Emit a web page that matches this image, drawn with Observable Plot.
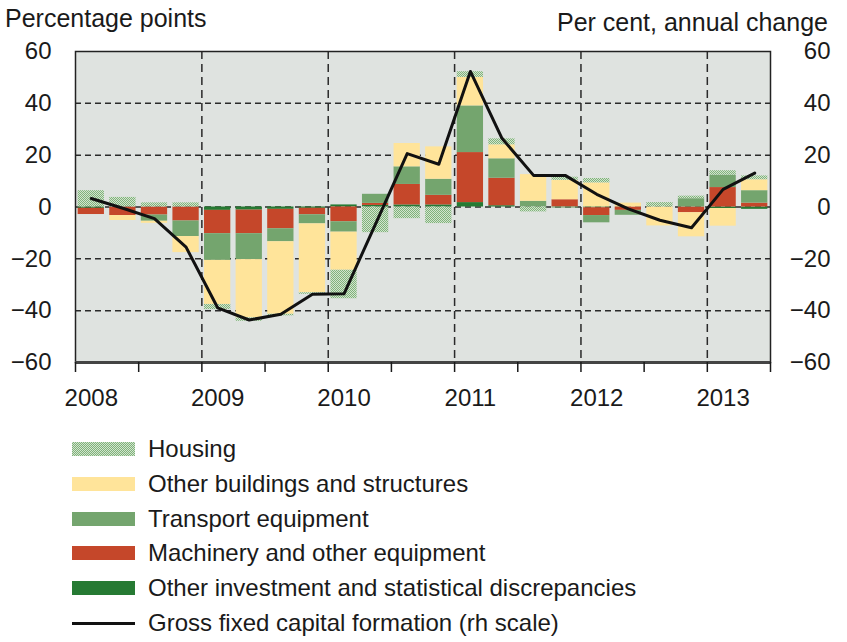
<!DOCTYPE html>
<html><head><meta charset="utf-8">
<script src="https://cdn.jsdelivr.net/npm/d3@7"></script>
<script src="https://cdn.jsdelivr.net/npm/@observablehq/plot@0.6"></script>
<style>
body{margin:0;background:#fff;font-family:"Liberation Sans",Arial,sans-serif;}
#wrap{position:relative;width:847px;height:642px;overflow:hidden;}
.t{position:absolute;font-size:25px;line-height:25px;color:#1a1a1a;white-space:nowrap;}
.row{position:absolute;left:72px;height:24px;display:flex;align-items:center;font-size:24px;color:#1a1a1a;white-space:nowrap;}
.sw{width:63px;height:14px;margin-right:13px;flex:none;}
.ln{width:63px;height:3px;background:#111;margin-right:13px;flex:none;}
</style></head><body><div id="wrap"></div>
<script>
// ---- data (quarterly, 2008Q1 .. 2013Q2) ----
const quarters = ["2008Q1","2008Q2","2008Q3","2008Q4","2009Q1","2009Q2","2009Q3","2009Q4",
  "2010Q1","2010Q2","2010Q3","2010Q4","2011Q1","2011Q2","2011Q3","2011Q4",
  "2012Q1","2012Q2","2012Q3","2012Q4","2013Q1","2013Q2"];
const years = ["2008","2009","2010","2011","2012","2013"];
const seriesNames = ["Other investment and statistical discrepancies","Machinery and other equipment",
  "Transport equipment","Other buildings and structures","Housing"];
const otherInvestment = [-0.5,0,0,0,-1.3,-1.2,-0.9,-0.5,0.8,0.6,0.8,0.8,1.7,0.5,0,0,-0.3,0,0,0,-0.6,-0.9];
const machinery       = [-2.4,-3.3,-3.1,-5.4,-9.0,-9.1,-7.5,-2.5,-5.7,0.8,7.9,3.7,19.3,10.6,0,2.8,-3.0,-1.3,0,-2.2,7.5,1.5];
const transport       = [0,0,-2.4,-6.0,-10.3,-10.0,-5.0,-3.5,-4.0,3.5,6.8,6.2,18.0,7.5,2.2,-0.4,-2.8,-1.9,0,3.2,4.8,4.8];
const otherBuildings  = [0,-1.9,-0.8,-6.2,-17.0,-22.5,-28.0,-26.6,-14.7,0,9.0,12.5,11.0,5.4,10.3,7.5,9.3,1.5,-7.3,-9.3,-6.8,4.2];
const housing         = [6.3,3.7,1.6,1.6,-2.0,-1.3,-0.6,-0.6,-11.0,-9.9,-4.5,-6.4,2.2,2.3,-1.9,1.2,1.7,0,1.7,1.0,1.7,1.5];
const gfcf            = [3.3,-0.5,-4.5,-15.5,-38.9,-43.6,-41.4,-33.7,-33.5,-6.5,20.6,16.5,52.3,26.5,12.2,12.2,4.9,-0.7,-5.1,-8.0,6.8,13.1];
const yTicks = [-60,-40,-20,0,20,40,60];

// ---- build tables ----
const seriesValues = [otherInvestment, machinery, transport, otherBuildings, housing];
const colors = ["#267a33","#c5472a","#74a56e","#ffe49a","url(#housingHatch)"];
const rows = [];
quarters.forEach((q, i) => {
  let pos = 0, neg = 0;
  seriesValues.forEach((arr, s) => {
    const v = arr[i];
    if (v >= 0) { rows.push({i, q, series: seriesNames[s], y1: pos, y2: pos + v}); pos += v; }
    else { rows.push({i, q, series: seriesNames[s], y1: neg, y2: neg + v}); neg += v; }
  });
});
const lineRows = quarters.map((q, i) => ({i, q, v: gfcf[i]}));
const quarterEdges = d3.range(0, quarters.length + 1, 2);
const yearEdges = years.slice(1).map((y, k) => 4 * (k + 1));
const yearPos = years.map((y, k) => 4 * k + 0.5);
const fmt = d => d < 0 ? "\u2212" + Math.abs(d) : String(d);

const chart = Plot.plot({
  width: 847, height: 420,
  marginLeft: 75, marginRight: 77, marginTop: 51, marginBottom: 58,
  style: {fontFamily: '"Liberation Sans", Arial, sans-serif', fontSize: "24px", color: "#1a1a1a", background: "transparent", overflow: "visible"},
  x: {domain: [0, quarters.length], axis: null},
  y: {domain: [-60, 60], axis: null},
  color: {domain: seriesNames, range: colors},
  marks: [
    Plot.frame({fill: "#dfe3e0"}),
    Plot.ruleY([-40, -20, 0, 20, 40], {stroke: "#2a2a2a", strokeWidth: 1.5, strokeDasharray: "6,4"}),
    Plot.ruleX(yearEdges, {stroke: "#2a2a2a", strokeWidth: 1.5, strokeDasharray: "8,5"}),
    Plot.rect(rows, {x1: d => d.i, x2: d => d.i + 1, y1: "y1", y2: "y2", fill: "series", insetLeft: 2.65, insetRight: 2.65}),
    Plot.line(lineRows, {x: d => d.i + 0.5, y: "v", stroke: "#111", strokeWidth: 3}),
    Plot.frame({stroke: "#222", strokeWidth: 1.5}),
    Plot.ruleY([-60], {stroke: "#444", strokeWidth: 3}),
    Plot.axisY(yTicks, {anchor: "left", tickSize: 0, tickPadding: 24, tickFormat: fmt}),
    Plot.axisY(yTicks, {anchor: "right", tickSize: 0, tickPadding: 60, textAnchor: "end", tickFormat: fmt}),
    Plot.axisX(quarterEdges, {anchor: "bottom", tickSize: 10, strokeWidth: 1.5, tickFormat: () => ""}),
    Plot.axisX(yearPos, {anchor: "bottom", tickSize: 0, tickPadding: 26, tickFormat: (d, k) => years[Math.round((d - 0.5) / 4)]})
  ]
});

// hatched pattern for housing
const ns = "http://www.w3.org/2000/svg";
const svg = chart.tagName.toLowerCase() === "svg" ? chart : chart.querySelector("svg");
const defs = document.createElementNS(ns, "defs");
const pat = document.createElementNS(ns, "pattern");
pat.setAttribute("id", "housingHatch");
pat.setAttribute("width", "2"); pat.setAttribute("height", "2");
pat.setAttribute("patternUnits", "userSpaceOnUse");
[[0,0,2,2,"#d2e4ce"],[0,0,1,1,"#80b27b"],[1,1,1,1,"#80b27b"]].forEach(([x,y,w,h,c]) => {
  const r = document.createElementNS(ns, "rect");
  r.setAttribute("x", x); r.setAttribute("y", y); r.setAttribute("width", w); r.setAttribute("height", h);
  r.setAttribute("fill", c); pat.appendChild(r);
});
defs.appendChild(pat);
svg.insertBefore(defs, svg.firstChild);

const wrap = document.getElementById("wrap");
wrap.appendChild(chart);

// titles
const t1 = document.createElement("div");
t1.className = "t"; t1.style.left = "5px"; t1.style.top = "6px"; t1.textContent = "Percentage points";
const t2 = document.createElement("div");
t2.className = "t"; t2.style.right = "19px"; t2.style.top = "10px"; t2.textContent = "Per cent, annual change";
wrap.appendChild(t1); wrap.appendChild(t2);

// legend
const legendItems = [
  {label: "Housing", fill: "hatch"},
  {label: "Other buildings and structures", fill: colors[3]},
  {label: "Transport equipment", fill: colors[2]},
  {label: "Machinery and other equipment", fill: colors[1]},
  {label: "Other investment and statistical discrepancies", fill: colors[0]},
  {label: "Gross fixed capital formation (rh scale)", fill: "line"}
];
const legendCenters = [449, 483.5, 518.5, 553, 588, 623];
legendItems.forEach((it, k) => {
  const row = document.createElement("div");
  row.className = "row";
  row.style.top = (legendCenters[k] - 12) + "px";
  const sw = document.createElement("div");
  if (it.fill === "line") sw.className = "ln";
  else {
    sw.className = "sw";
    sw.style.background = it.fill === "hatch"
      ? "repeating-conic-gradient(#80b27b 0 25%, #d2e4ce 0 50%) 0 0/2px 2px"
      : it.fill;
  }
  const tx = document.createElement("span");
  tx.textContent = it.label;
  row.appendChild(sw); row.appendChild(tx);
  wrap.appendChild(row);
});
</script></body></html>
